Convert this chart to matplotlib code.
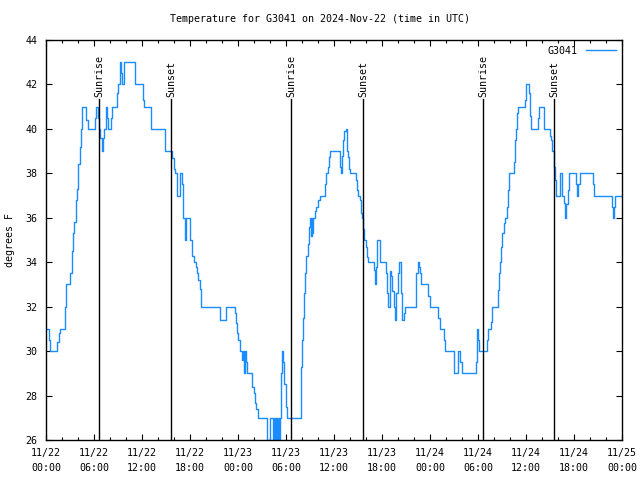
import matplotlib
matplotlib.use("Agg")
import matplotlib.pyplot as plt
from matplotlib.ticker import MultipleLocator

plt.rcParams['font.family'] = ['DejaVu Sans Mono']
plt.rcParams['font.size'] = 7.2

# hours since 2024-11-22 00:00 UTC where the reading changes, and the new reading (F)
hours = [0.0, 0.4, 0.55, 1.4, 1.6, 1.75, 2.4, 2.55, 3.05, 3.2, 3.4, 3.55, 3.7, 3.9,
         4.05, 4.2, 4.4, 4.55, 5.05, 5.2, 6.1, 6.25, 6.45, 6.6, 6.8, 6.95, 7.15, 7.3,
         7.45, 7.6, 7.75, 8.15, 8.25, 8.85, 9.0, 9.2, 9.4, 9.55, 9.75, 11.15, 12.15,
         12.25, 13.15, 14.85, 15.8, 15.95, 16.1, 16.35, 16.75, 16.95, 17.15, 17.35,
         17.5, 18.05, 18.25, 18.45, 18.7, 18.85, 19.0, 19.2, 19.4, 21.8, 22.55, 23.6,
         23.75, 23.9, 24.05, 24.2, 24.5, 24.6, 24.75, 24.85, 25.0, 25.15, 25.8, 25.95,
         26.1, 26.3, 26.5, 27.65, 27.95, 28.35, 28.45, 28.6, 28.7, 28.85, 28.95, 29.1,
         29.25, 29.4, 29.5, 29.65, 29.8, 29.95, 30.1, 31.85, 31.95, 32.1, 32.25, 32.4,
         32.55, 32.7, 32.85, 33.0, 33.1, 33.2, 33.3, 33.4, 33.6, 33.8, 34.0, 34.2,
         34.85, 35.0, 35.2, 35.4, 35.55, 36.7, 36.85, 37.0, 37.15, 37.3, 37.45, 37.6,
         37.75, 37.9, 38.05, 38.7, 38.85, 39.0, 39.2, 39.35, 39.5, 39.65, 39.8, 39.95,
         40.1, 40.3, 40.95, 41.1, 41.25, 41.4, 41.8, 42.45, 42.6, 42.8, 42.95, 43.1,
         43.3, 43.45, 43.6, 43.8, 43.95, 44.1, 44.4, 44.5, 44.75, 44.9, 46.3, 46.45,
         46.6, 46.75, 46.9, 47.8, 48.0, 49.0, 49.2, 49.7, 49.85, 51.0, 51.5, 51.8,
         51.95, 53.7, 53.85, 54.0, 54.15, 55.1, 55.25, 55.6, 55.75, 56.45, 56.6, 56.75,
         56.9, 57.05, 57.25, 57.4, 57.6, 57.75, 57.9, 58.5, 58.6, 58.75, 58.9, 59.05,
         59.85, 60.0, 60.35, 60.5, 60.65, 61.5, 61.65, 62.3, 63.05, 63.15, 63.3, 63.45,
         63.55, 63.65, 63.7, 63.8, 64.2, 64.3, 64.45, 64.75, 64.9, 65.05, 65.2, 65.4,
         66.25, 66.35, 66.55, 66.75, 68.35, 68.55, 70.75, 70.85, 70.95, 71.1, 72.0]
temps = [31, 30.5, 30, 30.4, 30.8, 31, 32, 33, 33.5, 34.5, 35.3, 35.8, 36.8, 37.3,
         38.4, 39.2, 40, 41, 40.4, 40, 40.5, 41, 40.5, 40, 39.6, 39, 39.6, 40,
         41, 40.5, 40, 40.5, 41, 41.6, 42, 43, 42.5, 42, 43, 42, 41.3,
         41, 40, 39, 38.7, 38.2, 38, 37, 38, 37.5, 36, 35,
         36, 35, 34.3, 34, 33.8, 33.5, 33.2, 32.8, 32, 31.4, 32, 31.7,
         31.25, 30.8, 30.5, 30, 29.6, 30, 29, 30, 29.5, 29, 28.4, 28.1,
         27.65, 27.4, 27, 26, 27, 26, 27, 26, 27, 26, 27, 26,
         27, 29, 30, 29.5, 28.5, 27.5, 27, 29.3, 30.5, 31.5, 32.6, 33.5,
         34.3, 34.8, 35.6, 36, 35.2, 36, 35.3, 36, 36.3, 36.5, 36.8, 37,
         37.5, 38, 38.3, 38.75, 39, 38.3, 38, 38.8, 39.5, 39.9, 40, 39,
         38.75, 38.2, 38, 37.7, 37.25, 37, 36.8, 36.2, 36, 35.5, 35, 34.7,
         34.25, 34, 33.65, 33, 33.8, 35, 34, 33.5, 32.6, 32, 33.6, 33.4,
         32.7, 32, 31.4, 32.6, 33.5, 34, 32.6, 31.4, 31.7, 32, 33.5, 34,
         33.8, 33.5, 33, 32.5, 32, 31.5, 31, 30.5, 30, 29, 30, 29.5,
         29, 29.5, 31, 30.5, 30, 30.5, 31, 31.3, 32, 32.75, 33.5, 34,
         34.7, 35.3, 35.75, 36, 36.5, 37.25, 38, 38.5, 39.5, 40, 40.7, 41,
         41.3, 42, 41.6, 40.6, 40, 40.5, 41, 40, 39.7, 39.5, 39, 38.75,
         38.3, 37.7, 37.4, 37, 37.5, 38, 37, 36.65, 36, 36.6, 37.25, 38,
         37.5, 37, 37.5, 38, 37.5, 37, 36.5, 36, 36.5, 37, 37]

sunrise = [6.67, 30.67, 54.67]
sunset = [15.63, 39.67, 63.54]

tick_hours = list(range(0, 73, 6))
tick_labels = ["11/22\n00:00", "11/22\n06:00", "11/22\n12:00", "11/22\n18:00",
               "11/23\n00:00", "11/23\n06:00", "11/23\n12:00", "11/23\n18:00",
               "11/24\n00:00", "11/24\n06:00", "11/24\n12:00", "11/24\n18:00",
               "11/25\n00:00"]

fig = plt.figure(figsize=(6.4, 4.8), dpi=100)
ax = fig.add_axes([46 / 640, 40 / 480, 576 / 640, 400 / 480])

ax.plot(hours, temps, drawstyle='steps-post', color='#1a8cff', lw=1.0, label='G3041')

for h in sunrise:
    ax.axvline(h, ymin=0, ymax=0.8525, color='black', lw=1.0)
    ax.text(h, 41.45, 'Sunrise', rotation=90, ha='center', va='bottom')
for h in sunset:
    ax.axvline(h, ymin=0, ymax=0.8525, color='black', lw=1.0)
    ax.text(h, 41.45, 'Sunset', rotation=90, ha='center', va='bottom')

ax.set_xlim(0, 72)
ax.set_ylim(26, 44)
ax.set_xticks(tick_hours)
ax.set_xticklabels(tick_labels, linespacing=1.6)
ax.xaxis.set_minor_locator(MultipleLocator(2))
ax.set_yticks(range(26, 45, 2))
ax.tick_params(which='both', direction='in', top=True, right=True, width=0.8)
ax.tick_params(which='major', length=4.5, pad=6)
ax.tick_params(which='minor', length=2.5)
for s in ax.spines.values():
    s.set_linewidth(1.0)

ax.set_ylabel('degrees F', va='center')
ax.yaxis.set_label_coords(-0.063, 0.5)
fig.text(0.5, 1 - 19 / 480, 'Temperature for G3041 on 2024-Nov-22 (time in UTC)',
         ha='center', va='center')
ax.legend(loc='upper right', frameon=False, handlelength=3.0, markerfirst=False,
          borderaxespad=0.2, handletextpad=0.8)

fig.savefig('out.png', dpi=100)
